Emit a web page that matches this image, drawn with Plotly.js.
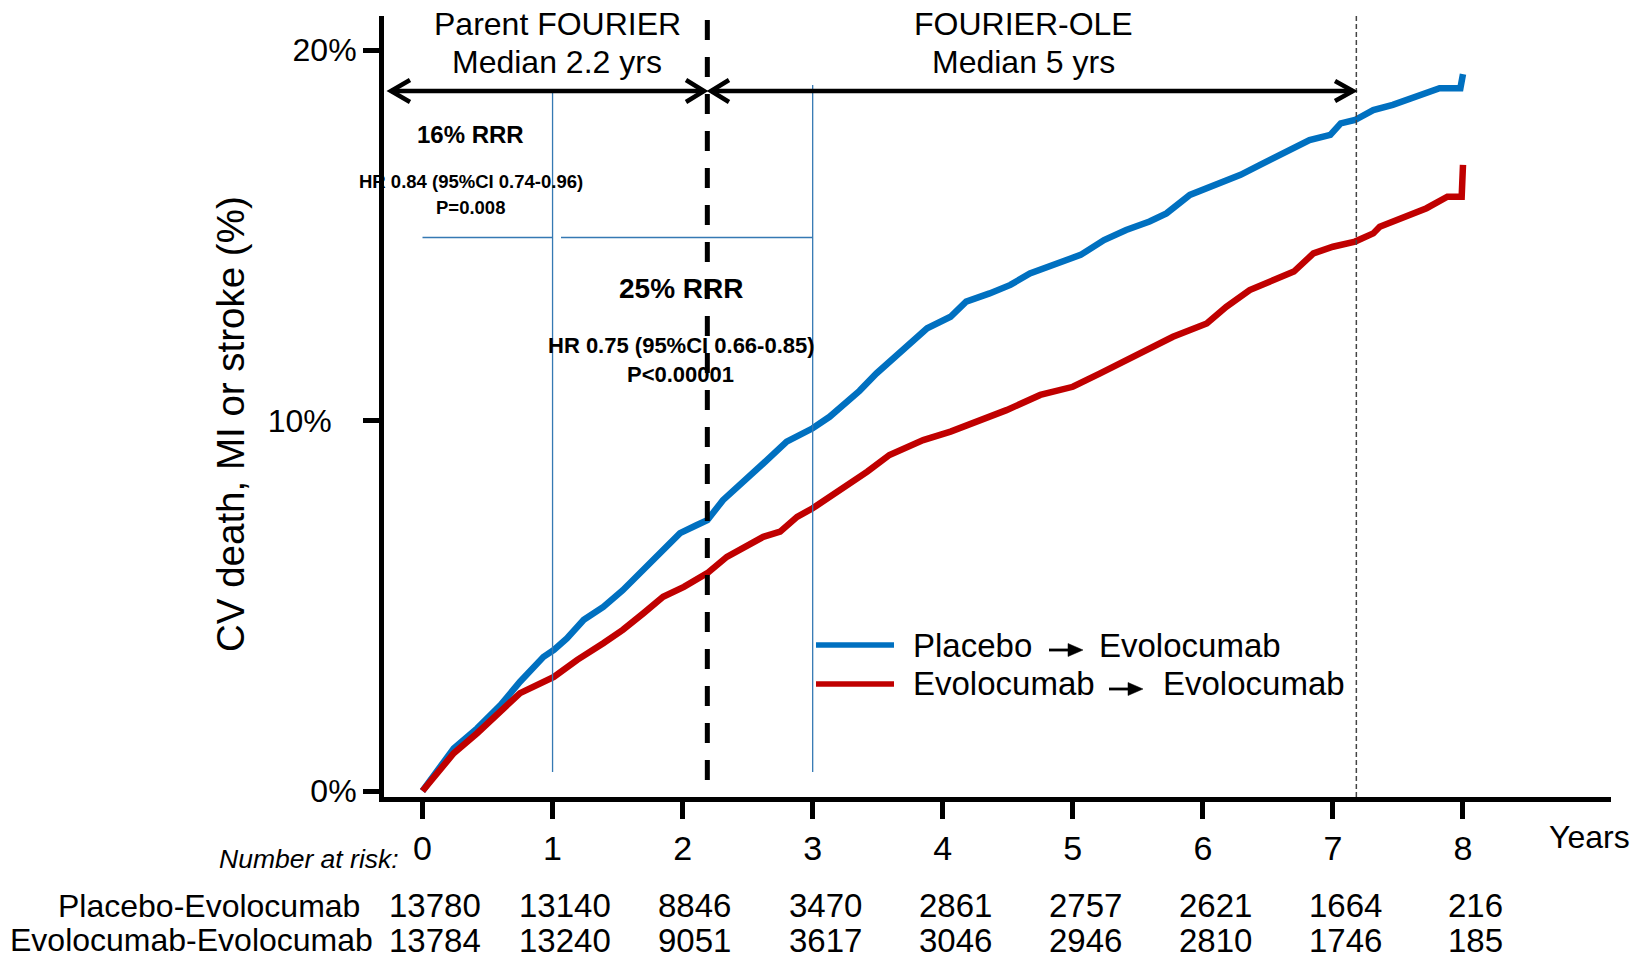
<!DOCTYPE html>
<html>
<head>
<meta charset="utf-8">
<script src="https://cdn.plot.ly/plotly-3.0.1.min.js"></script>
<style>html,body{margin:0;padding:0;background:#fff;}#chart{width:1640px;height:965px;}</style>
</head>
<body>
<div id="chart"></div>
<script>
// ---------- data ----------
const years = [0, 1, 2, 3, 4, 5, 6, 7, 8];
const yTickVals = [0, 10, 20];
const yTickText = ['0%', '10%\u2002\u00a0', '20%'];
const seriesNames = ['Placebo', 'Evolocumab'];
const riskRowLabels = ['Placebo-Evolocumab', 'Evolocumab-Evolocumab'];
const atRiskPlacebo = [13780, 13140, 8846, 3470, 2861, 2757, 2621, 1664, 216];
const atRiskEvolocumab = [13784, 13240, 9051, 3617, 3046, 2946, 2810, 1746, 185];

const tPlacebo = [0, 0.24, 0.42, 0.60, 0.75, 0.93, 1.01, 1.11, 1.24, 1.39, 1.54, 1.70, 1.85, 1.98, 2.11, 2.19, 2.31, 2.47, 2.62, 2.80, 3.00, 3.13, 3.21, 3.36, 3.49, 3.62, 3.75, 3.88, 4.06, 4.18, 4.36, 4.52, 4.67, 4.88, 5.06, 5.24, 5.41, 5.59, 5.72, 5.90, 6.11, 6.29, 6.44, 6.62, 6.82, 6.98, 7.06, 7.17, 7.31, 7.46, 7.67, 7.82, 7.98, 8.00];
const yPlacebo = [0, 1.15, 1.69, 2.32, 2.95, 3.62, 3.81, 4.12, 4.62, 4.97, 5.42, 5.96, 6.50, 6.96, 7.18, 7.31, 7.85, 8.39, 8.84, 9.43, 9.79, 10.10, 10.33, 10.80, 11.27, 11.68, 12.13, 12.49, 12.80, 13.21, 13.43, 13.66, 13.97, 14.24, 14.47, 14.87, 15.14, 15.37, 15.59, 16.09, 16.36, 16.63, 16.90, 17.21, 17.57, 17.71, 18.02, 18.11, 18.38, 18.52, 18.79, 18.97, 18.97, 19.35];

const tEvolocumab = [0, 0.24, 0.42, 0.60, 0.75, 1.01, 1.19, 1.39, 1.54, 1.70, 1.85, 2.01, 2.19, 2.34, 2.47, 2.62, 2.75, 2.88, 3.00, 3.13, 3.21, 3.34, 3.42, 3.59, 3.85, 4.06, 4.29, 4.49, 4.75, 5.00, 5.21, 5.44, 5.64, 5.77, 6.03, 6.18, 6.36, 6.54, 6.70, 6.85, 7.00, 7.17, 7.31, 7.36, 7.54, 7.72, 7.88, 7.99, 8.00];
const yEvolocumab = [0, 1.02, 1.56, 2.14, 2.64, 3.08, 3.54, 3.99, 4.35, 4.80, 5.24, 5.51, 5.88, 6.32, 6.59, 6.86, 7.00, 7.40, 7.63, 7.94, 8.08, 8.40, 8.62, 9.07, 9.47, 9.70, 10.01, 10.28, 10.69, 10.91, 11.27, 11.68, 11.99, 12.26, 12.62, 13.07, 13.52, 13.79, 14.02, 14.51, 14.69, 14.83, 15.05, 15.23, 15.50, 15.73, 16.04, 16.04, 16.90];

// ---------- style ----------
const BLUE = '#0070c0', RED = '#c00000', THIN = '#3579b3';
const SANS = '"Liberation Sans", Arial, sans-serif';

// plot area in pixels
const L = 384, R = 29, T = 16, B = 168, W = 1640, H = 965;
const PW = W - L - R, PH = H - T - B;
const px = v => (v - L) / PW;          // pixel x -> paper
const py = v => (H - B - v) / PH;      // pixel y -> paper

const traces = [
  {x: tPlacebo, y: yPlacebo, name: seriesNames[0], type: 'scatter', mode: 'lines',
   line: {color: BLUE, width: 6.5}, hoverinfo: 'skip'},
  {x: tEvolocumab, y: yEvolocumab, name: seriesNames[1], type: 'scatter', mode: 'lines',
   line: {color: RED, width: 6.5}, hoverinfo: 'skip'}
];

function ann(text, x, y, size, opts) {
  return Object.assign({text: text, x: px(x), y: py(y), xref: 'paper', yref: 'paper',
    showarrow: false, xanchor: 'center', yanchor: 'middle',
    font: {family: SANS, size: size, color: 'black'}}, opts || {});
}

const annotations = [
  ann('Parent FOURIER', 557, 24, 32),
  ann('Median 2.2 yrs', 557, 62, 32),
  ann('FOURIER-OLE', 1023, 24, 32),
  ann('Median 5 yrs', 1023, 62, 32),
  ann('<b>16% RRR</b>', 470, 134, 24),
  ann('<b>HR 0.84 (95%CI 0.74-0.96)</b>', 471, 181, 18.5),
  ann('<b>P=0.008</b>', 470, 207, 18.5),
  ann('<b>25% RRR</b>', 681, 288, 28),
  ann('<b>HR 0.75 (95%CI 0.66-0.85)</b>', 681, 345, 22),
  ann('<b>P<0.00001</b>', 680, 374, 22),
  ann('CV death, MI or stroke (%)', 230, 424, 38.5, {textangle: -90}),
  ann('Placebo', 911, 645, 33, {xanchor: 'left'}),
  ann('Evolocumab', 1097, 645, 33, {xanchor: 'left'}),
  ann('Evolocumab', 911, 683, 33, {xanchor: 'left'}),
  ann('Evolocumab', 1161, 683, 33, {xanchor: 'left'}),
  ann('Years', 1589, 837, 32),
  ann('<i>Number at risk:</i>', 401, 859, 26.5, {xanchor: 'right'}),
  ann(riskRowLabels[0], 362, 906, 32, {xanchor: 'right'}),
  ann(riskRowLabels[1], 375, 940, 32, {xanchor: 'right'})
];
years.forEach((yr, i) => {
  annotations.push({text: String(atRiskPlacebo[i]), x: yr + 0.095, xref: 'x', y: py(906), yref: 'paper',
    showarrow: false, xanchor: 'center', yanchor: 'middle', font: {family: SANS, size: 33, color: 'black'}});
  annotations.push({text: String(atRiskEvolocumab[i]), x: yr + 0.095, xref: 'x', y: py(940), yref: 'paper',
    showarrow: false, xanchor: 'center', yanchor: 'middle', font: {family: SANS, size: 33, color: 'black'}});
});

function pline(x0, y0, x1, y1, color, width, dash) {
  return {type: 'line', xref: 'paper', yref: 'paper', x0: px(x0), y0: py(y0), x1: px(x1), y1: py(y1),
    line: {color: color, width: width, dash: dash || 'solid'}, layer: 'above'};
}
function ppath(pts, color, width, fill) {
  const d = pts.map((p, i) => (i ? 'L' : 'M') + px(p[0]) + ',' + py(p[1])).join(' ') + (fill ? ' Z' : '');
  return {type: 'path', xref: 'paper', yref: 'paper', path: d,
    line: {color: color, width: width}, fillcolor: fill ? color : 'rgba(0,0,0,0)', layer: 'above'};
}
function dline(x, y0px, y1px, color, width, dash) {
  return {type: 'line', xref: 'x', yref: 'paper', x0: x, x1: x, y0: py(y0px), y1: py(y1px),
    line: {color: color, width: width, dash: dash || 'solid'}, layer: 'above'};
}

const shapes = [
  // thin blue reference frames
  dline(1, 92, 772, THIN, 1.3),
  dline(3, 85, 772, THIN, 1.3),
  {type: 'line', xref: 'x', yref: 'paper', x0: 0, x1: 1.0, y0: py(237.5), y1: py(237.5), line: {color: THIN, width: 1.3}},
  {type: 'line', xref: 'x', yref: 'paper', x0: 1.065, x1: 3.0, y0: py(237.5), y1: py(237.5), line: {color: THIN, width: 1.3}},
  // dashed separators
  dline(2.19, 20, 790, 'black', 5, '20px,17px'),
  dline(7.18, 16, 799, '#444444', 1.5, '5px,3px'),
  // period arrows
  pline(391, 91, 704, 91, 'black', 4.5),
  ppath([[410, 80], [391, 91], [410, 102]], 'black', 4.5),
  ppath([[686, 80], [704, 91], [686, 102]], 'black', 4.5),
  pline(711, 91, 1353, 91, 'black', 4.5),
  ppath([[729, 80], [711, 91], [729, 102]], 'black', 4.5),
  ppath([[1335, 81], [1353, 91], [1335, 101]], 'black', 4.5),
  // legend
  pline(816, 645, 894, 645, BLUE, 5.5),
  pline(816, 684, 894, 684, RED, 5.5),
  pline(1049, 650, 1070, 650, 'black', 2.8),
  ppath([[1068, 643.5], [1083, 650], [1068, 656.5]], 'black', 0.5, true),
  pline(1109, 689, 1130, 689, 'black', 2.8),
  ppath([[1128, 682.5], [1143, 689], [1128, 695.5]], 'black', 0.5, true)
];

const layout = {
  width: W, height: H,
  margin: {l: L, r: R, t: T, b: B, pad: 0},
  paper_bgcolor: 'white', plot_bgcolor: 'white',
  showlegend: false,
  xaxis: {
    range: [-0.296, 9.138], tickmode: 'array', tickvals: years, ticktext: years.map(String),
    showline: true, linewidth: 5, linecolor: 'black', mirror: false,
    ticks: 'outside', ticklen: 17, tickwidth: 5, tickcolor: 'black',
    showgrid: false, zeroline: false, fixedrange: true,
    tickfont: {family: SANS, size: 34, color: 'black'}
  },
  yaxis: {
    range: [-0.162, 20.918], tickmode: 'array', tickvals: yTickVals, ticktext: yTickText,
    showline: true, linewidth: 5, linecolor: 'black',
    ticks: 'outside', ticklen: 16, tickwidth: 5, tickcolor: 'black',
    showgrid: false, zeroline: false, fixedrange: true,
    tickfont: {family: SANS, size: 32, color: 'black'}
  },
  annotations: annotations,
  shapes: shapes
};

Plotly.newPlot('chart', traces, layout, {staticPlot: true, displayModeBar: false});
</script>
</body>
</html>
